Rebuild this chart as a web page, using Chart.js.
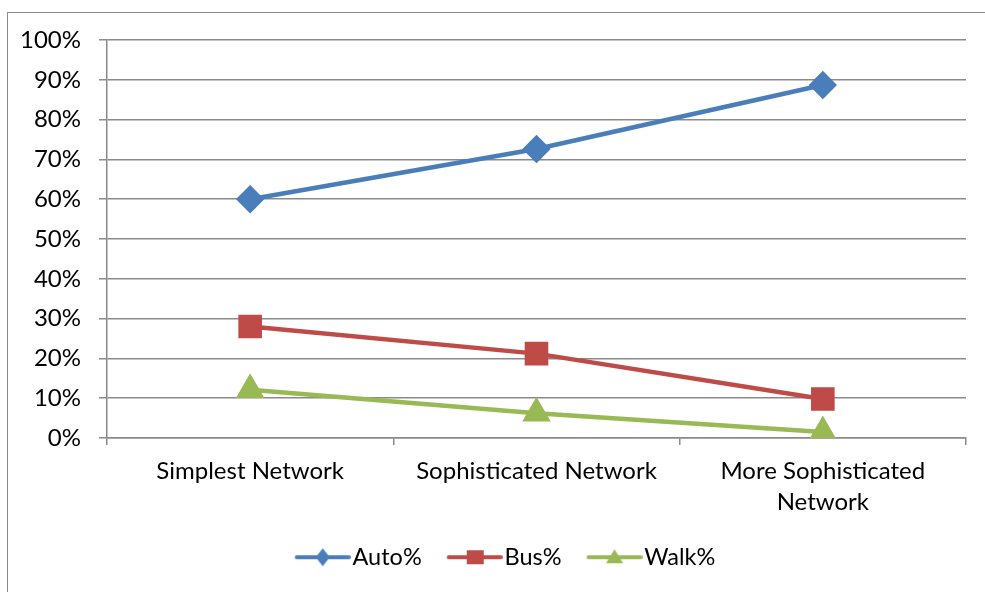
<!DOCTYPE html>
<html>
<head>
<meta charset="utf-8">
<script src="https://cdn.jsdelivr.net/npm/chart.js@4.4.1/dist/chart.umd.min.js"></script>
<style>
  html, body { margin: 0; padding: 0; background: #fff; overflow: hidden; }
  #wrap { position: relative; width: 985px; height: 592px; }
  #frame { position: absolute; left: 7px; top: 12px; width: 1200px; height: 800px;
           border: 1.5px solid #8a8a8a; box-sizing: border-box; }
  canvas { position: absolute; left: 0; top: 0; }
</style>
</head>
<body>
<div id="wrap">
  <div id="frame"></div>
  <canvas id="c" width="985" height="592"></canvas>
</div>
<script>
const categories = ['Simplest Network', 'Sophisticated Network', ['More Sophisticated', 'Network']];
const autoPct = [60, 72.6, 88.7];
const busPct = [28, 21.2, 9.8];
const walkPct = [12.1, 6.2, 1.5];
const yTicks = [0, 10, 20, 30, 40, 50, 60, 70, 80, 90, 100];

const BLUE = '#4a7ebb', RED = '#be4b48', GREEN = '#98b954';
const GRID = '#8a8a8a';
const FONT = 'Lato';
const FS = 24;
const LEGEND_FS = 23.5;

// legend icon: 66px wide image, first 10px transparent, visible line+marker 56px
function legendIcon(color, shape) {
  const c = document.createElement('canvas');
  c.width = 66; c.height = 22;
  const g = c.getContext('2d');
  const ox = 10, cy = 11, cx = ox + 28;
  g.strokeStyle = color; g.lineWidth = 4; g.lineCap = 'round';
  g.beginPath(); g.moveTo(ox + 2, cy); g.lineTo(ox + 54, cy); g.stroke();
  g.fillStyle = color;
  g.beginPath();
  if (shape === 'diamond') {
    g.moveTo(cx, cy - 9); g.lineTo(cx + 7, cy); g.lineTo(cx, cy + 9); g.lineTo(cx - 7, cy);
  } else if (shape === 'square') {
    g.rect(cx - 8, cy - 7, 17, 14);
  } else {
    g.moveTo(cx, cy - 8); g.lineTo(cx + 8.5, cy + 6); g.lineTo(cx - 8.5, cy + 6);
  }
  g.closePath(); g.fill();
  return c;
}

const icons = [legendIcon(BLUE, 'diamond'), legendIcon(RED, 'square'), legendIcon(GREEN, 'triangle')];

const legendShift = {
  id: 'legendShift',
  afterLayout(chart) {
    if (chart.legend) { chart.legend.left += 22; chart.legend.right += 22; }
  }
};

new Chart(document.getElementById('c'), {
  type: 'line',
  data: {
    labels: categories,
    datasets: [
      { label: 'Auto%', data: autoPct, borderColor: BLUE, backgroundColor: BLUE,
        pointBorderColor: BLUE, pointBackgroundColor: BLUE, pointStyle: 'rectRot', pointRadius: 11, borderWidth: 4.5 },
      { label: 'Bus%', data: busPct, borderColor: RED, backgroundColor: RED,
        pointBorderColor: RED, pointBackgroundColor: RED, pointStyle: 'rect', pointRadius: 13.5, borderWidth: 4.5 },
      { label: 'Walk%', data: walkPct, borderColor: GREEN, backgroundColor: GREEN,
        pointBorderColor: GREEN, pointBackgroundColor: GREEN, pointStyle: 'triangle', pointRadius: 12, borderWidth: 4.5 }
    ]
  },
  plugins: [legendShift],
  options: {
    responsive: false,
    animation: false,
    devicePixelRatio: 1,
    layout: { padding: { left: 0, right: 19, top: 40, bottom: 13 } },
    plugins: {
      tooltip: { enabled: false },
      legend: {
        position: 'bottom',
        labels: {
          usePointStyle: true,
          pointStyleWidth: 46,
          padding: 25,
          color: '#000',
          font: { family: FONT, size: LEGEND_FS },
          generateLabels(chart) {
            return chart.data.datasets.map((ds, i) => ({
              text: ds.label, pointStyle: icons[i], datasetIndex: i,
              fillStyle: ds.borderColor, strokeStyle: ds.borderColor, lineWidth: 0, hidden: false
            }));
          }
        }
      }
    },
    scales: {
      x: {
        type: 'category',
        offset: true,
        afterFit(scale) { scale.height = 82.5; },
        grid: { offset: true, drawOnChartArea: false, drawTicks: true, tickLength: 7, color: GRID, lineWidth: 1.5 },
        border: { color: GRID, width: 1.5 },
        ticks: { color: '#000', autoSkip: false, maxRotation: 0, padding: 11,
                 font: { family: FONT, size: FS, lineHeight: 1.28 } }
      },
      y: {
        min: 0, max: 100,
        afterFit(scale) { scale.width = 107; },
        afterBuildTicks(scale) { scale.ticks = yTicks.map(v => ({ value: v })); },
        grid: { color: GRID, lineWidth: 1.5, tickLength: 8 },
        border: { color: GRID, width: 1.5 },
        ticks: { color: '#000', padding: 18, font: { family: FONT, size: FS },
                 callback: v => v + '%' }
      }
    }
  }
});
</script>
</body>
</html>
